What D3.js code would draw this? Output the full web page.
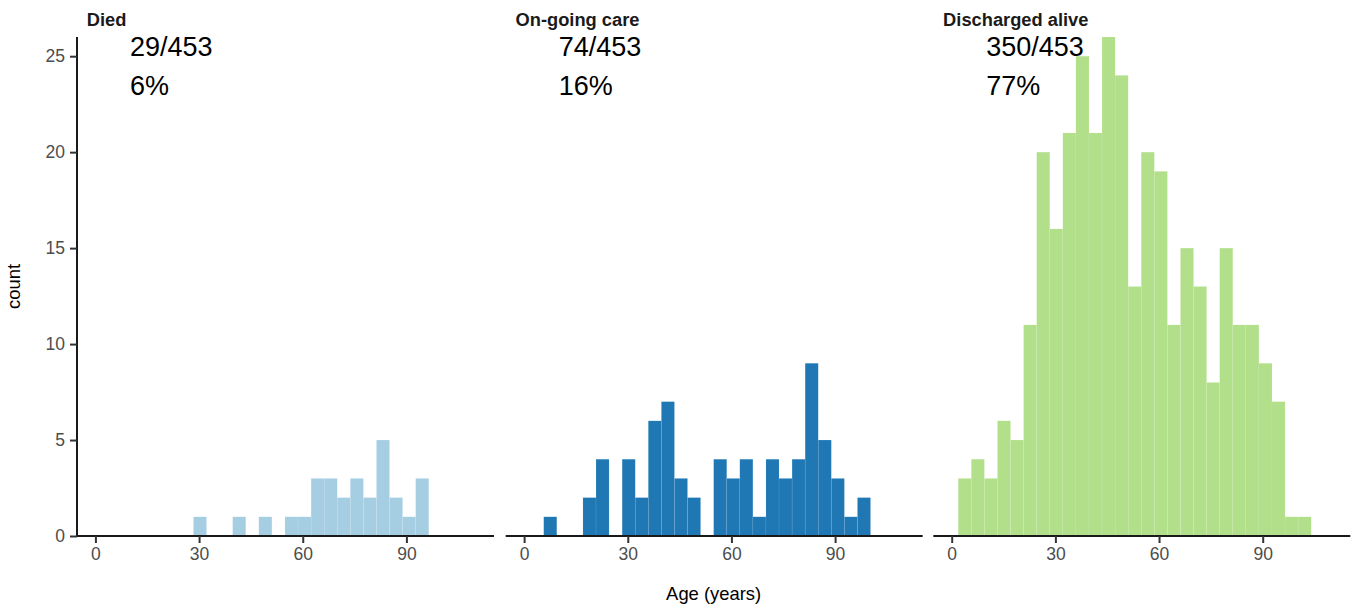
<!DOCTYPE html>
<html>
<head>
<meta charset="utf-8">
<script src="https://cdn.jsdelivr.net/npm/d3@7"></script>
<style>
  html, body { margin: 0; padding: 0; background: #ffffff; }
  svg { display: block; font-family: "Liberation Sans", Arial, Helvetica, sans-serif; }
</style>
</head>
<body>
<svg id="chart" width="1362" height="606"></svg>
<script>
// ---------------- data ----------------
const categories = ["Died", "On-going care", "Discharged alive"];
const outcomeCounts = [29, 74, 350];
const totalPatients = 453;
const percentLabels = ["6%", "16%", "77%"];
const colors = ["#a6cee3", "#1f78b4", "#b2df8a"];

// histogram bins (years): first edge and width, 30 bins
const binStart = -1.89;
const binWidth = 3.783;

// counts per bin (bin 0 .. bin 29)
const diedCounts =       [0,0,0,0,0,0,0,0,1,0,0,1,0,1,0,1,1,3,3,2,3,2,5,2,1,3,0,0,0,0];
const ongoingCounts =    [0,0,1,0,0,2,4,0,4,2,6,7,3,2,0,4,3,4,1,4,3,4,9,5,3,1,2,0,0,0];
const dischargedCounts = [0,3,4,3,6,5,11,20,16,21,25,21,26,24,13,20,19,11,15,13,8,15,11,11,9,7,1,1,0,0];
const seriesCounts = [diedCounts, ongoingCounts, dischargedCounts];

const xTicks = [0, 30, 60, 90];
const yTicks = [0, 5, 10, 15, 20, 25];

// ---------------- layout ----------------
const panelLefts = [77, 505.7, 933.3];
const panelWidth = 417;
const panelTop = 37;
const panelBottom = 536;

const svg = d3.select("#chart");

const x = d3.scaleLinear().domain([-5.33, 115.35]).range([0, panelWidth]);
const y = d3.scaleLinear().domain([0, 26]).range([panelBottom, panelTop]);

categories.forEach((cat, pi) => {
  const g = svg.append("g").attr("transform", `translate(${panelLefts[pi]},0)`);
  const counts = seriesCounts[pi];
  const bins = counts.map((c, i) => ({
    x0: binStart + i * binWidth,
    x1: binStart + (i + 1) * binWidth,
    count: c
  })).filter(d => d.count > 0);

  g.selectAll("rect.bar")
    .data(bins)
    .enter().append("rect")
    .attr("class", "bar")
    .attr("x", d => x(d.x0))
    .attr("width", d => x(d.x1) - x(d.x0))
    .attr("y", d => y(d.count))
    .attr("height", d => y(0) - y(d.count))
    .attr("fill", colors[pi])
    .attr("stroke", "#ffffff")
    .attr("stroke-opacity", 0.15)
    .attr("stroke-width", 0.5);

  // x axis
  const xAxis = d3.axisBottom(x).tickValues(xTicks).tickSize(7).tickPadding(5).tickSizeOuter(0);
  const xa = g.append("g").attr("transform", `translate(0,${panelBottom})`).call(xAxis);
  xa.select(".domain").attr("stroke", "#1a1a1a").attr("stroke-width", 2)
    .attr("d", `M0,0H${panelWidth}`);
  xa.selectAll(".tick line").attr("stroke", "#333333").attr("stroke-width", 2);
  xa.selectAll(".tick text").attr("fill", "#4d4d4d").style("font-size", "17.5px")
    .style("font-family", "Liberation Sans, Arial, sans-serif");

  // y axis only on first panel
  if (pi === 0) {
    const yAxis = d3.axisLeft(y).tickValues(yTicks).tickSize(7).tickPadding(5).tickSizeOuter(0);
    const ya = g.append("g").call(yAxis);
    ya.select(".domain").attr("stroke", "#1a1a1a").attr("stroke-width", 2)
      .attr("d", `M0,${panelTop}V${panelBottom}`);
    ya.selectAll(".tick line").attr("stroke", "#333333").attr("stroke-width", 2);
    ya.selectAll(".tick text").attr("fill", "#4d4d4d").style("font-size", "17.5px")
      .style("font-family", "Liberation Sans, Arial, sans-serif");
  }

  // strip label
  g.append("text")
    .attr("x", 9.8)
    .attr("y", 26)
    .attr("font-weight", "bold")
    .attr("font-size", "18.3px")
    .attr("fill", "#1a1a1a")
    .text(cat);

  // annotations
  g.append("text")
    .attr("x", x(10))
    .attr("y", y(25))
    .attr("font-size", "27px")
    .attr("fill", "#000000")
    .text(`${outcomeCounts[pi]}/${totalPatients}`);
  g.append("text")
    .attr("x", x(10))
    .attr("y", y(23))
    .attr("font-size", "27px")
    .attr("fill", "#000000")
    .text(percentLabels[pi]);
});

// axis titles
svg.append("text")
  .attr("x", (panelLefts[0] + panelLefts[2] + panelWidth) / 2)
  .attr("y", 600)
  .attr("text-anchor", "middle")
  .attr("font-size", "18.4px")
  .attr("fill", "#000000")
  .text("Age (years)");

svg.append("text")
  .attr("transform", `translate(20,${(panelTop + panelBottom) / 2}) rotate(-90)`)
  .attr("text-anchor", "middle")
  .attr("font-size", "18.4px")
  .attr("fill", "#000000")
  .text("count");
</script>
</body>
</html>
